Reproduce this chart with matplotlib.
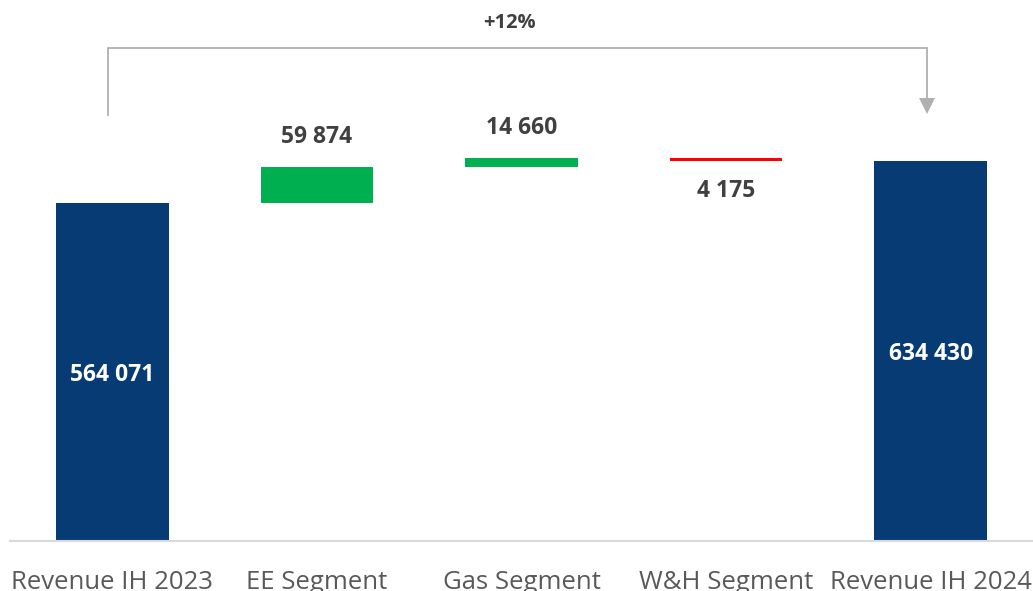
import numpy as np
import matplotlib
matplotlib.use("Agg")
import matplotlib.pyplot as plt

categories = ["Revenue IH 2023", "EE Segment", "Gas Segment", "W&H Segment", "Revenue IH 2024"]
start_total = 564071
changes = [59874, 14660, -4175]
end_total = 634430
value_labels = ["564 071", "59 874", "14 660", "4 175", "634 430"]

navy = "#063b74"
green = "#00b050"
red = "#ff0000"
txt = "#404040"

plt.rcParams["font.family"] = ["Open Sans", "DejaVu Sans"]

fig = plt.figure(figsize=(10.33, 5.91), dpi=100)
ax = fig.add_axes([10 / 1033, 50 / 591, 1023 / 1033, 541 / 591])

# waterfall bottoms / heights
bottoms = [0]
heights = [start_total]
running = start_total
for c in changes:
    bottoms.append(running if c >= 0 else running + c)
    heights.append(abs(c))
    running += c
bottoms.append(0)
heights.append(end_total)
colors = [navy] + [green if c >= 0 else red for c in changes] + [navy]

x = np.arange(len(categories))
ax.bar(x, heights, bottom=bottoms, width=0.55, color=colors)

# labels
for i in range(len(categories)):
    if i in (0, len(categories) - 1):
        ax.text(x[i], bottoms[i] + heights[i] / 2 - 5000, value_labels[i], ha="center", va="center",
                color="white", fontsize=16.5, fontweight="bold")
    elif changes[i - 1] >= 0:
        ax.annotate(value_labels[i], (x[i], bottoms[i] + heights[i]), xytext=(0, 22),
                    textcoords="offset points", ha="center", va="center",
                    color=txt, fontsize=16.5, fontweight="bold")
    else:
        ax.annotate(value_labels[i], (x[i], bottoms[i]), xytext=(0, -22),
                    textcoords="offset points", ha="center", va="center",
                    color=txt, fontsize=16.5, fontweight="bold")

# growth bracket
y_lo, y_top, y_tip = 711000, 822800, 714300
xl, xr = x[0] - 0.02, x[-1] - 0.02
ax.plot([xl, xl, xr, xr], [y_lo, y_top, y_top, y_tip + 24000], color="#b0b0b0", lw=1.3,
        clip_on=False, solid_joinstyle="miter")
ax.plot([xr], [y_tip + 12000], marker="v", markersize=11, color="#b0b0b0", clip_on=False,
        markeredgewidth=0)
growth = end_total / start_total - 1
ax.text(1.94, 864000, f"+{growth * 100:.0f}%", ha="center", va="center",
        color=txt, fontsize=14.5, fontweight="bold")

ax.set_xlim(-0.5, 4.5)
ax.set_ylim(0, 902870)
ax.set_xticks(x)
ax.set_xticklabels(categories, fontsize=18.5, color="#595959")
ax.tick_params(axis="x", length=0, pad=21)
ax.set_yticks([])
for s in ["left", "right", "top"]:
    ax.spines[s].set_visible(False)
ax.spines["bottom"].set_color("#d9d9d9")
ax.spines["bottom"].set_linewidth(1.5)

fig.savefig("out.png", dpi=100)
